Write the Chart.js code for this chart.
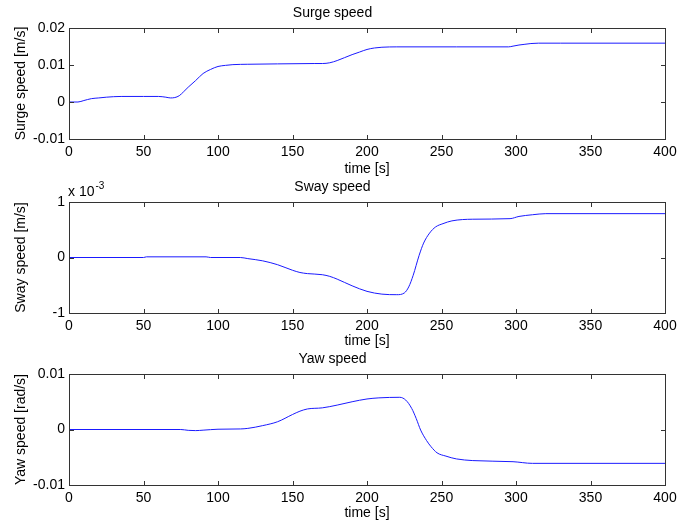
<!DOCTYPE html>
<html>
<head>
<meta charset="utf-8">
<script src="https://cdn.jsdelivr.net/npm/chart.js@4.4.1/dist/chart.umd.min.js"></script>
<style>
  html, body { margin: 0; padding: 0; background: #fff; }
  #wrap { position: relative; width: 678px; height: 524px; overflow: hidden; }
  #wrap canvas { position: absolute; left: 0; }
</style>
</head>
<body>
<div id="wrap">
  <canvas id="surge" width="678" height="178" style="top:0px"></canvas>
  <canvas id="sway" width="678" height="176" style="top:174px"></canvas>
  <canvas id="yaw" width="678" height="176" style="top:346px"></canvas>
</div>
<script>
// ==================== DADOS ====================

const timeTicks = [0, 50, 100, 150, 200, 250, 300, 350, 400];

const surgeT = [0, 6, 10, 15, 20, 25, 35, 50, 60, 65, 68, 71, 74, 77, 80, 85, 90, 95, 100, 105, 110, 120, 140, 165, 170, 175, 180, 185, 190, 195, 200, 205, 210, 220, 260, 295, 298, 302, 306, 310, 315, 330, 400];
const surgeV = [0, 0, 0.0004, 0.0009, 0.0011, 0.0013, 0.0015, 0.0015, 0.0015, 0.0013, 0.0011, 0.0012, 0.0017, 0.0028, 0.004, 0.0058, 0.0077, 0.0088, 0.0096, 0.0099, 0.0101, 0.0102, 0.0103, 0.0104, 0.0104, 0.0106, 0.0112, 0.012, 0.0128, 0.0135, 0.0142, 0.0146, 0.0148, 0.0149, 0.0149, 0.0149, 0.0151, 0.0154, 0.0156, 0.0158, 0.0159, 0.0159, 0.0159];
const surgeTicks = [-0.01, 0, 0.01, 0.02];

// sway em unidades de 1e-3 m/s
const swayT = [0, 50, 52, 92, 95, 115, 120, 130, 140, 150, 155, 160, 170, 175, 180, 190, 200, 210, 220, 225, 228, 231, 235, 238, 242, 246, 251, 257, 271, 296, 302, 311, 320, 400];
const swayV = [0, 0, 0.012, 0.012, 0, 0, -0.02, -0.06, -0.13, -0.23, -0.27, -0.29, -0.31, -0.34, -0.39, -0.51, -0.61, -0.66, -0.67, -0.64, -0.53, -0.32, 0.04, 0.26, 0.44, 0.55, 0.61, 0.66, 0.69, 0.70, 0.74, 0.77, 0.79, 0.79];
const swayTicks = [-1, 0, 1];

const yawT = [0, 75, 80, 85, 90, 100, 115, 120, 130, 140, 150, 155, 160, 170, 180, 190, 200, 208, 222, 226, 230, 233, 236, 240, 243, 247, 253, 260, 271, 298, 311, 400];
const yawV = [0, 0, -0.00015, -0.0002, -0.00012, 0.00005, 0.0001, 0.0002, 0.0007, 0.0014, 0.0027, 0.0033, 0.0037, 0.0039, 0.0044, 0.005, 0.0055, 0.0057, 0.0058, 0.0053, 0.0038, 0.002, -0.0001, -0.002, -0.0031, -0.0042, -0.0048, -0.0053, -0.0056, -0.0058, -0.0061, -0.0061];
const yawTicks = [-0.01, 0, 0.01];

// ==================== ESTILO ====================

const FONTE = "'Liberation Sans', Arial, Helvetica, sans-serif";
const COR_EIXO = '#333333';

function fmt(v) {
    return String(parseFloat(Number(v).toFixed(6)));
}

// moldura + ticks para dentro (estilo MATLAB)
const moldura = {
    id: 'moldura',
    afterDraw(chart) {
        const { ctx, chartArea: a, scales } = chart;
        ctx.save();
        ctx.strokeStyle = COR_EIXO;
        ctx.lineWidth = 1;
        ctx.strokeRect(a.left + 0.5, a.top + 0.5, a.right - a.left, a.bottom - a.top);
        ctx.beginPath();
        scales.x.ticks.forEach(t => {
            const px = Math.round(scales.x.getPixelForValue(t.value)) + 0.5;
            ctx.moveTo(px, a.top); ctx.lineTo(px, a.top + 5);
            ctx.moveTo(px, a.bottom + 1); ctx.lineTo(px, a.bottom - 4);
        });
        scales.y.ticks.forEach(t => {
            const py = Math.round(scales.y.getPixelForValue(t.value)) + 0.5;
            ctx.moveTo(a.left, py); ctx.lineTo(a.left + 5, py);
            ctx.moveTo(a.right + 1, py); ctx.lineTo(a.right - 4, py);
        });
        ctx.stroke();
        const exp = chart.options.plugins.moldura && chart.options.plugins.moldura.expoente;
        if (exp) {
            ctx.fillStyle = '#000';
            ctx.textBaseline = 'middle';
            ctx.textAlign = 'left';
            ctx.font = '14px ' + FONTE;
            const base = 'x 10';
            ctx.fillText(base, a.left - 1, a.top - 10);
            const w = ctx.measureText(base).width;
            ctx.font = '10px ' + FONTE;
            ctx.fillText(exp, a.left - 1 + w + 1, a.top - 16);
        }
        ctx.restore();
    }
};

function criarGrafico(id, titulo, rotuloY, tempos, valores, ticksY, expoente) {
    const canvas = document.getElementById(id);
    const H = canvas.height;
    const pontos = tempos.map((t, i) => ({ x: t, y: valores[i] }));

    return new Chart(canvas, {
        type: 'line',
        data: {
            datasets: [{
                data: pontos,
                borderColor: '#1a1aff',
                borderWidth: 1,
                pointRadius: 0,
                cubicInterpolationMode: 'monotone',
                fill: false
            }]
        },
        options: {
            responsive: false,
            animation: false,
            events: [],
            layout: { padding: { left: 0, right: 13, top: 0, bottom: 0 } },
            plugins: {
                legend: { display: false },
                tooltip: { enabled: false },
                title: {
                    display: true,
                    text: titulo,
                    color: '#000',
                    font: { family: FONTE, size: 14, weight: 'normal' },
                    padding: { top: 5, bottom: 6.2 }
                },
                moldura: { expoente: expoente }
            },
            scales: {
                x: {
                    type: 'linear',
                    min: timeTicks[0],
                    max: timeTicks[timeTicks.length - 1],
                    afterBuildTicks: s => { s.ticks = timeTicks.map(v => ({ value: v })); },
                    afterFit: s => {
                        s.height = H - 139;
                        s.paddingLeft = 0;
                        s.paddingRight = 0;
                    },
                    grid: { display: false, drawTicks: false },
                    border: { display: false },
                    ticks: {
                        color: '#000',
                        padding: 5,
                        maxRotation: 0,
                        autoSkip: false,
                        font: { family: FONTE, size: 14 },
                        callback: v => fmt(v)
                    },
                    title: {
                        display: true,
                        text: 'time [s]',
                        color: '#000',
                        font: { family: FONTE, size: 14 },
                        padding: { top: 0, bottom: 0 }
                    }
                },
                y: {
                    type: 'linear',
                    min: ticksY[0],
                    max: ticksY[ticksY.length - 1],
                    afterBuildTicks: s => { s.ticks = ticksY.map(v => ({ value: v })); },
                    afterFit: s => {
                        s.width = 69;
                        s.paddingTop = 0;
                        s.paddingBottom = 0;
                    },
                    grid: { display: false, drawTicks: false },
                    border: { display: false },
                    ticks: {
                        color: '#000',
                        padding: 4,
                        autoSkip: false,
                        font: { family: FONTE, size: 14 },
                        callback: v => fmt(v)
                    },
                    title: {
                        display: true,
                        text: rotuloY,
                        color: '#000',
                        font: { family: FONTE, size: 14 },
                        padding: { top: 13, bottom: 0 }
                    }
                }
            }
        },
        plugins: [moldura]
    });
}

// ==================== INICIALIZAÇÃO ====================

criarGrafico('surge', 'Surge speed', 'Surge speed [m/s]', surgeT, surgeV, surgeTicks);
criarGrafico('sway', 'Sway speed', 'Sway speed [m/s]', swayT, swayV, swayTicks, '-3');
criarGrafico('yaw', 'Yaw speed', 'Yaw speed [rad/s]', yawT, yawV, yawTicks);
</script>
</body>
</html>
